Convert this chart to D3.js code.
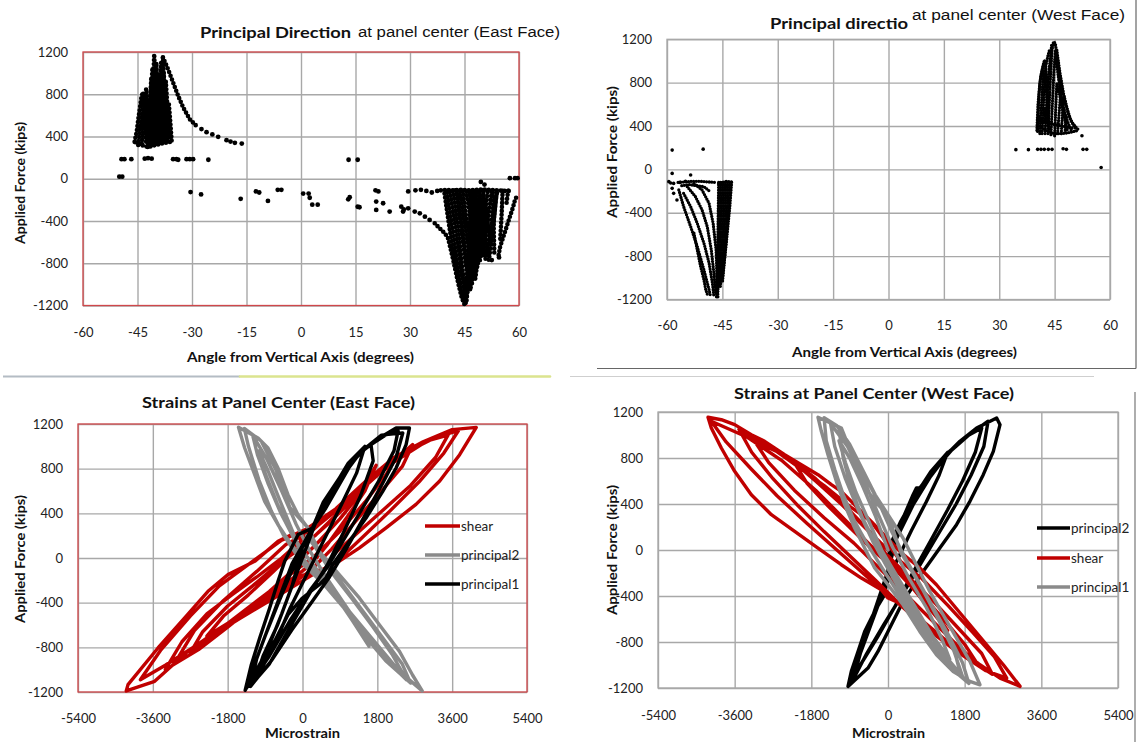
<!DOCTYPE html>
<html><head><meta charset="utf-8">
<script src="https://cdn.jsdelivr.net/npm/d3@7"></script>
<style>body{margin:0;background:#fff}svg{display:block}</style>
</head><body><svg id="c" width="1140" height="742"></svg>
<script>
// ---------- tick values ----------
const angleTicks = [-60,-45,-30,-15,0,15,30,45,60];
const forceTicks = [-1200,-800,-400,0,400,800,1200];
const strainTicks = [-5400,-3600,-1800,0,1800,3600,5400];

// ---------- Principal direction, East face (angle deg, force kips) ----------
const eastDirDots = [
 [-50,20],[-49.2,20],[-49.4,185],[-48.6,185],[-46.7,185],[-43,190],[-42.1,195],[-41.1,190],
 [-35.2,185],[-34.3,185],[-33.8,180],[-31.5,185],[-30.6,185],[-29.7,185],[-25.5,180],
 [-27.4,470],[-26,441],[-24.4,420],[-22.8,397],[-20.5,365],[-19.4,352],[-18.2,340],[-16.3,333],
 [-30.4,-126],[-27.5,-148],[-16.6,-190],[-12.4,-120],[-11.5,-130],[-9.1,-210],[-6.4,-105],[-5.4,-105],
 [0.6,-140],[2.1,-140],[2.4,-180],[3.1,-245],[4.6,-245],[13,-195],[13.4,-175],[15.6,-265],[16.1,-270],
 [13.1,180],[15.6,180],[20.5,-110],[21.3,-120],[20.7,-216],[22.6,-232],[20.7,-295],[24.4,-311],
 [27.6,-264],[28.1,-311],[28.3,-290],[29.5,-280],[31.3,-311],[32.7,-327],[34.1,-359],[35.4,-390],
 [29.5,-120],[31.5,-110],[33,-105],[34.5,-115],[36,-130],[37.5,-115],
 [49.5,-30],[50.5,-55],[57.5,5],[58.9,5],[59.6,5],[54.5,-745],[52.5,-770]
];
const eastDirBands = [
 [[-45.8,350],[-45.2,450],[-44.8,560],[-44.3,680],[-43.9,780],[-43.5,820],[-43.2,700],[-42.9,500],[-42.6,330]],
 [[-44.8,320],[-43.8,600],[-42.6,850],[-42.0,600],[-41.6,320]],
 [[-43.8,330],[-43.2,600],[-42.8,780],[-42.3,500],[-42,320]],
 [[-42.2,300],[-41.6,700],[-41.2,960],[-40.8,650],[-40.5,310]],
 [[-41.8,310],[-41.4,650],[-40.9,1050],[-40.5,700],[-40.1,330]],
 [[-41.2,330],[-40.8,800],[-40.4,1180],[-40.0,800],[-39.6,330]],
 [[-40.6,330],[-40.2,700],[-39.8,1100],[-39.4,700],[-39.0,340]],
 [[-40.2,340],[-39.6,700],[-39.2,1000],[-38.8,700],[-38.4,340]],
 [[-39.6,340],[-39.0,800],[-38.5,1100],[-38.2,800],[-37.7,350]],
 [[-39.2,350],[-38.6,800],[-38.0,1150],[-37.5,800],[-37.0,360]],
 [[-38.6,350],[-38.2,700],[-37.8,1000],[-37.3,650],[-36.8,360]],
 [[-38.2,350],[-37.7,650],[-37.2,920],[-36.7,650],[-36.2,370]],
 [[-37.2,360],[-36.8,550],[-36.4,720],[-36.0,550],[-35.6,360]],
 [[-45.6,345],[-44,320],[-42,300],[-40,320],[-38,335],[-35.8,350]],
 [[-44.2,500],[-42,500],[-40,500],[-38,500],[-36.2,500]],
 [[-43.8,700],[-42,700],[-40,700],[-38,700],[-37,700]],
 [[-38.0,1150],[-36.6,1038],[-35.2,911],[-33.8,784],[-32.4,673],[-30.6,562],[-28.7,498]],
 [[36.8,-422],[38.2,-470],[39.6,-517],[40.5,-565],[41.9,-771],[43.3,-994],[44.2,-1121],[45.1,-1200],[45.8,-1000],[46.3,-700],[46.6,-400],[46.8,-130]],
 [[39.5,-140],[40.8,-450],[42.2,-750],[43.6,-1000],[44.6,-1150],[45.5,-1180],[46.2,-900],[47.0,-500],[47.5,-130]],
 [[40.2,-130],[41.6,-450],[43,-800],[44.2,-1080],[45.0,-1150],[45.9,-850],[46.4,-500],[46.9,-200]],
 [[41,-120],[42.5,-450],[43.8,-800],[44.8,-1050],[45.6,-1120],[46.8,-800],[47.8,-400],[48.2,-120]],
 [[41.8,-115],[43.2,-450],[44.4,-850],[45.6,-1080],[46.9,-850],[47.6,-600],[48.3,-250]],
 [[42.5,-110],[44,-450],[45.3,-800],[46.6,-1057],[47.6,-800],[48.6,-400],[49.2,-120]],
 [[43,-115],[44.6,-500],[46,-900],[47,-1000],[48.2,-750],[49,-450],[49.6,-150]],
 [[43.8,-120],[45.2,-450],[46.8,-800],[47.9,-962],[48.9,-700],[49.8,-350],[50.3,-110]],
 [[44.5,-115],[46,-500],[47.5,-880],[48.4,-800],[49.4,-500],[50.2,-200]],
 [[45.5,-120],[47,-450],[48.5,-835],[49.8,-600],[50.8,-300],[51.4,-120]],
 [[46.2,-115],[47.8,-480],[49.2,-780],[50.3,-550],[51.2,-250]],
 [[47,-120],[48.5,-420],[50.0,-740],[51.0,-500],[52.0,-250],[52.5,-120]],
 [[48,-120],[49.6,-500],[50.8,-760],[52,-550],[53,-250]],
 [[49,-130],[50.5,-450],[51.7,-771],[52.8,-500],[53.6,-200],[54.0,-120]],
 [[50,-110],[51.3,-400],[52.2,-600],[53.2,-350],[53.8,-150]],
 [[52.8,-130],[53.0,-400],[53.2,-700]],
 [[55.5,-115],[55.2,-350],[54.8,-600]],
 [[57,-115],[56.5,-250]],
 [[59.2,-180],[58.9,-200],[58.4,-264],[57.5,-359],[56.6,-454],[55.7,-549],[54.8,-645],[54.3,-740]],
 [[38.5,-110],[40,-105],[42,-110],[44,-105],[46,-110],[48,-105],[50,-100],[52,-105],[54,-110],[56,-115],[57.5,-115]]
];

// ---------- Principal direction, West face ----------
const westDirDots = [
 [-58.6,178],[-50.2,187],[-58.6,-37],[-59.5,-113],[-59,-125],[-58.2,-129],[-58.6,-175],[-58.2,-221],
 [-57.3,-282],[-53.6,-52],[-56.5,-120],[-55,-110],
 [34.5,182],[37.9,182],[40.4,185],[41.3,185],[42.2,185],[43.3,185],[44.3,185],[47.3,190],[48.2,185],
 [52.7,185],[53.7,185],[52.4,311],[57.6,18]
];
const westDirBands = [
 [[-52.7,-588],[-51.8,-742],[-50.9,-895],[-50,-1018],[-49.5,-1110],[-49.1,-1150]],
 [[-56.8,-190],[-55.5,-343],[-53.6,-527],[-51.8,-711],[-50,-926],[-48.6,-1110],[-48.2,-1171]],
 [[-55.5,-221],[-53.6,-343],[-51.8,-497],[-50,-680],[-48.6,-864],[-47.7,-1048],[-47.3,-1171]],
 [[-54.5,-159],[-52.3,-251],[-50.5,-374],[-49.1,-527],[-48,-742],[-47.3,-956],[-46.8,-1140]],
 [[-52.7,-129],[-50.5,-190],[-48.6,-313],[-47.5,-497],[-46.7,-742],[-46.4,-1018],[-46.2,-1190]],
 [[-57,-120],[-55,-115],[-53,-110],[-51,-110],[-49,-115],[-47,-120]],
 [[-56,-150],[-54,-140],[-52,-150],[-50,-160],[-48.5,-200]],
 [[-46,-120],[-46.2,-600],[-46.5,-1000]],
 [[-45.5,-120],[-45.7,-500],[-46.2,-900],[-46.6,-1180]],
 [[-45,-120],[-45.3,-500],[-45.8,-900],[-46.3,-1150]],
 [[-44.5,-120],[-44.8,-500],[-45.5,-900],[-46.0,-1100]],
 [[-44,-120],[-44.3,-450],[-45,-850],[-45.6,-1100]],
 [[-43.5,-120],[-43.8,-400],[-44.5,-800],[-45.3,-1050]],
 [[-43,-120],[-43.4,-380],[-44.2,-750],[-45,-1050]],
 [[-42.5,-120],[-43.0,-350],[-44.0,-700],[-45.0,-1000]],
 [[-46,-130],[-44,-110],[-42.3,-115]],
 [[40.2,360],[40.5,600],[41,800],[41.5,900],[42.4,1009],[43.0,800],[43.3,500],[43.5,330]],
 [[40.4,350],[40.8,700],[41.2,850],[41.8,950],[42.2,1000]],
 [[41,330],[41.6,700],[42.0,917],[42.8,700],[43.2,400]],
 [[41.6,330],[42.2,750],[42.6,950],[43.2,1050],[43.6,1100]],
 [[42.4,330],[43,700],[43.6,950],[44.2,1150]],
 [[43.2,330],[43.8,800],[44.3,1100],[44.7,1178],[45.2,1163],[46,950],[47,750],[48,600],[49,480],[50,420],[51,380],[51.6,363]],
 [[44,320],[44.8,900],[45.2,1100],[46,850],[47.2,600],[48.4,450],[49.6,350]],
 [[45.6,1100],[46.4,900],[47.4,700],[48.4,560],[49.4,450],[50.6,380]],
 [[45.0,310],[45.6,800],[46.3,700],[47.5,500],[48.5,350]],
 [[45.8,330],[46.4,600],[46.8,800]],
 [[46.8,330],[47.2,550],[47.6,680]],
 [[47.8,340],[48.2,500]],
 [[40.8,450],[44,420],[47,400],[50,380]],
 [[41,400],[43,350],[45,330],[47,330],[49,340],[51.5,360]],
 [[42.2,560],[42.5,450],[41.5,450],[40.6,500]]
];

// ---------- Strains, East face (microstrain, kips) ----------
const eastLegend = ["shear","principal2","principal1"];
const eastShear = [
 [0,0],[400,150],[900,350],[1350,560],[1770,830],[1500,600],[1100,380],[600,120],[200,-60],[-300,-200],[-900,-360],[-1600,-540],[-2300,-700],[-1900,-520],[-1300,-330],[-700,-120],[-200,60],
 [300,200],[900,420],[1500,640],[2100,840],[2650,1015],[2400,820],[1900,600],[1300,340],[700,80],[200,-110],[-500,-300],[-1300,-480],[-2200,-690],[-3000,-896],[-2600,-650],[-1900,-380],[-1100,-120],[-400,120],
 [200,240],[900,450],[1700,720],[2500,950],[3200,1080],[3750,1140],[3400,940],[2800,680],[2100,420],[1400,170],[800,-40],[200,-160],[-600,-340],[-1500,-540],[-2500,-770],[-3300,-960],[-3900,-1090],[-3400,-820],[-2700,-520],[-2000,-250],[-1200,-30],[-500,160],
 [100,260],[800,440],[1500,680],[2200,900],[2900,1040],[3600,1150],[4180,1170],[3780,925],[3300,690],[2730,480],[2010,270],[1370,90],[880,-30],[560,-90],[-188,-179],[-910,-388],[-1792,-597],[-2754,-836],[-3556,-1104],[-4240,-1190],[-4197,-1134],[-3476,-806],[-2834,-537],[-2273,-298],[-1792,-149],[-1150,-30],[-589,149],[-268,209],[0,230],
 [-200,-100],[-800,-300],[-1500,-500],[-2200,-700],[-2700,-850],[-2400,-660],[-1800,-430],[-1200,-250],[-600,-60],[0,100],[600,300],[1200,520],[1800,760],[2300,930],[2000,740],[1500,500],[900,240],[300,20],
 [-300,-150],[-1000,-380],[-1800,-620],[-2500,-820],[-3300,-1000],[-2900,-750],[-2300,-500],[-1700,-330],[-1100,-170],[-500,0],[100,200],[700,400],[1400,620],[2200,860],[3000,1050],[3500,1100],[3200,900],[2600,650],[2000,450],[1400,250],[800,50]
];
const eastPrincipal2 = [
 [0,0],[-250,250],[-550,520],[-850,800],[-1050,960],[-900,760],[-600,480],[-300,250],[0,60],[400,-130],[800,-340],[1200,-560],[1600,-790],[1350,-600],[950,-380],[550,-160],[150,80],
 [-150,300],[-500,600],[-850,880],[-1200,1100],[-1080,920],[-820,660],[-520,400],[-200,170],[250,-60],[700,-280],[1200,-520],[1700,-760],[2200,-980],[2500,-1090],[2150,-860],[1700,-620],[1200,-370],[700,-130],[300,100],
 [132,269],[-108,388],[-349,567],[-589,806],[-830,985],[-1070,1075],[-1540,1170],[-1391,985],[-1150,746],[-910,507],[-589,298],[-268,119],[200,-90],[724,-269],[1126,-478],[1528,-657],[1930,-836],[2332,-1015],[2880,-1190],[2650,-1050],[2332,-836],[1849,-597],[1367,-358],[884,-149],[402,60],[132,269],
 [-300,450],[-650,800],[-1000,1050],[-1400,1160],[-1300,1000],[-1050,700],[-750,420],[-450,200],[0,-50],[500,-230],[1000,-450],[1500,-700],[2000,-920],[2600,-1120],[2400,-950],[2000,-750],[1500,-500],[1000,-250],[500,0],[100,200]
];
const eastPrincipal1 = [
 [0,0],[300,300],[700,600],[1100,850],[1500,1000],[1300,760],[900,450],[500,150],[100,-150],[-300,-450],[-700,-800],[-1000,-1000],[-800,-780],[-500,-500],[-200,-200],[0,0],
 [300,320],[800,650],[1300,920],[1648,1015],[1700,870],[1400,560],[1000,240],[600,-60],[200,-300],[-300,-620],[-800,-950],[-1150,-1100],[-950,-880],[-600,-600],[-250,-250],
 [0,100],[400,380],[900,700],[1400,950],[1900,1100],[2412,1120],[2250,900],[1900,650],[1500,380],[1050,80],[650,-170],[250,-380],[-250,-640],[-750,-920],[-1250,-1150],[-1100,-900],[-850,-650],[-550,-350],[-250,-50],
 [241,269],[563,448],[884,657],[1206,866],[1528,985],[1849,1075],[2251,1164],[2573,1164],[2492,1015],[2251,806],[1930,597],[1528,358],[1126,149],[724,-60],[563,-179],[402,-239],[0,-358],[-349,-507],[-670,-746],[-990,-925],[-1380,-1185],[-1231,-955],[-1030,-716],[-790,-448],[-589,-209],[-429,-30],[-268,90],[-108,209],[241,269],
 [500,500],[1000,780],[1500,980],[2000,1100],[2300,1140],[2200,960],[1850,700],[1450,450],[1050,200],[600,-80],[200,-280],[-300,-560],[-800,-880],[-1300,-1150],[-1150,-950],[-900,-700],[-600,-420],[-300,-150],[0,60]
];

// ---------- Strains, West face ----------
const westLegend = ["principal2","shear","principal1"];
const westPrincipal2 = [
 [0,0],[300,250],[650,480],[1000,680],[1400,850],[1200,650],[900,420],[550,170],[200,-100],[-100,-350],[-350,-600],[-550,-800],[-400,-620],[-200,-400],[0,-180],
 [200,100],[600,400],[1000,640],[1450,860],[1900,1000],[2200,1060],[2050,850],[1750,600],[1400,350],[1000,80],[550,-220],[150,-500],[-250,-760],[-650,-1000],[-800,-1100],[-650,-900],[-400,-640],[-150,-380],
 [0,-200],[118,46],[353,278],[589,481],[667,539],[746,539],[981,655],[1295,800],[1688,945],[2080,1061],[2551,1148],[2630,1090],[2473,858],[2237,655],[1923,423],[1609,220],[1217,17],[824,-186],[353,-447],[0,-708],[-235,-882],[-470,-1027],[-939,-1186],[-861,-1055],[-704,-882],[-548,-708],[-313,-534],[-78,-389],[0,-200],
 [0,-50],[300,200],[700,470],[1100,700],[1500,870],[1900,1000],[2350,1120],[2250,900],[1950,650],[1600,400],[1200,150],[800,-100],[350,-380],[-100,-650],[-500,-900],[-850,-1150],[-700,-950],[-450,-700],[-200,-450],[0,-200]
];
const westShear = [
 [0,0],[-500,180],[-1100,400],[-1700,600],[-2200,760],[-1900,580],[-1400,380],[-800,160],[-300,-20],[200,-180],[600,-340],[1000,-520],[1400,-700],[1100,-540],[700,-380],[300,-200],[0,-60],
 [-400,150],[-1000,380],[-1700,620],[-2400,820],[-3130,945],[-2800,760],[-2200,520],[-1500,280],[-800,60],[-200,-160],[400,-380],[1000,-600],[1600,-820],[2100,-990],[1800,-820],[1300,-600],[800,-390],[300,-200],
 [-300,0],[-1000,260],[-1700,520],[-2500,780],[-3300,980],[-4148,1119],[-3800,940],[-3200,700],[-2600,470],[-1900,230],[-1200,0],[-500,-230],[200,-450],[900,-680],[1600,-880],[2300,-1050],[2787,-1114],[2500,-930],[2000,-720],[1400,-480],[800,-250],[300,-100],
 [-400,250],[-1096,510],[-1330,568],[-1643,655],[-2035,742],[-2426,829],[-2896,945],[-3209,1003],[-3600,1090],[-3913,1133],[-4226,1154],[-4148,1061],[-3913,887],[-3600,684],[-3209,481],[-2739,307],[-2191,162],[-1643,17],[-1096,-128],[-626,-244],[-157,-345],[0,-418],[353,-476],[824,-621],[1295,-766],[1766,-882],[2159,-998],[2630,-1114],[3101,-1186],[2708,-998],[2316,-824],[1923,-650],[1531,-476],[1138,-302],[746,-157],[300,-20],[-400,250],
 [-900,380],[-1500,560],[-2100,720],[-2700,880],[-3500,1050],[-3200,850],[-2700,620],[-2100,380],[-1500,160],[-900,-50],[-300,-260],[300,-480],[1000,-700],[1700,-900],[2450,-1080],[2200,-900],[1700,-700],[1100,-460],[500,-240],[0,-50]
];
const westPrincipal1 = [
 [0,0],[-300,300],[-600,560],[-900,800],[-1150,950],[-1000,760],[-750,500],[-450,250],[-150,0],[250,-250],[650,-500],[1050,-750],[1450,-950],[1250,-760],[900,-500],[500,-250],[100,30],
 [-250,330],[-600,640],[-950,900],[-1350,1100],[-1250,900],[-1000,620],[-700,350],[-350,70],[100,-230],[550,-520],[1000,-800],[1450,-1000],[1750,-1100],[1550,-880],[1150,-580],[750,-300],[300,-20],
 [0,307],[-235,394],[-470,510],[-704,684],[-939,916],[-1096,1061],[-1643,1154],[-1565,1032],[-1409,829],[-1213,597],[-1017,394],[-783,191],[-548,17],[-313,-157],[0,-302],[353,-476],[746,-708],[1138,-911],[1531,-1056],[1923,-1143],[2159,-1172],[1923,-969],[1609,-766],[1295,-563],[981,-360],[667,-128],[353,104],[0,307],
 [-300,480],[-600,700],[-900,920],[-1200,1080],[-1500,1150],[-1450,950],[-1250,700],[-1050,480],[-800,260],[-500,60],[-150,-150],[250,-380],[650,-620],[1050,-850],[1450,-1020],[1900,-1160],[1750,-980],[1450,-760],[1150,-560],[800,-330],[450,-100],[100,150],
 [-200,400],[-550,650],[-850,870],[-1150,1040],[-1050,800],[-850,520],[-600,280],[-300,60],[100,-200],[500,-450],[900,-700],[1300,-900],[1700,-1080],[1550,-860],[1250,-640],[900,-400],[550,-180],[200,80]
];

// ---------- drawing ----------
const svg = d3.select("#c");
const RED = "#c00000", GRAYC = "#8a8a8a", BLACK = "#000000", GRID = "#a8a8a8", BORDER_RED = "#d0474a";
const CAL = "Lato, 'Liberation Sans', Arial, sans-serif";
const ARIAL = "'Liberation Sans', Arial, sans-serif";

function txt(s, x, y, o) {
  const t = svg.append("text").text(s).attr("x", x).attr("y", y)
    .attr("font-family", o.family || CAL).attr("font-size", o.size || 13)
    .attr("font-weight", o.weight || "normal").attr("fill", o.fill || "#111")
    .attr("text-anchor", o.anchor || "middle").attr("dominant-baseline", "central");
  if (o.len) t.attr("textLength", o.len).attr("lengthAdjust", "spacingAndGlyphs");
  if (o.rot) t.attr("transform", `rotate(${o.rot},${x},${y})`);
  return t;
}

function panel(o) {
  const x = d3.scaleLinear().domain([o.xt[0], o.xt[o.xt.length - 1]]).range([o.l, o.r]);
  const y = d3.scaleLinear().domain([-1200, 1200]).range([o.b, o.t]);
  const fs = 13;
  const fmt = d => String(d);
  const gx = svg.append("g").attr("transform", `translate(0,${o.b})`)
    .call(d3.axisBottom(x).tickValues(o.xt).tickSize(-(o.b - o.t)).tickPadding(o.xpad).tickFormat(fmt));
  const gy = svg.append("g").attr("transform", `translate(${o.l},0)`)
    .call(d3.axisLeft(y).tickValues(forceTicks).tickSize(-(o.r - o.l)).tickPadding(15).tickFormat(fmt));
  [gx, gy].forEach(g => {
    g.select(".domain").remove();
    g.selectAll("line").attr("stroke", GRID).attr("stroke-width", 1.4);
    g.selectAll("text").attr("font-family", CAL).attr("font-size", fs).attr("fill", "#222");
  });
  gx.selectAll("text").attr("dy", "0.71em");
  svg.append("rect").attr("x", o.l).attr("y", o.t).attr("width", o.r - o.l).attr("height", o.b - o.t)
    .attr("fill", "none").attr("stroke", o.border).attr("stroke-width", 1.3);
  const plot = svg.append("g");
  return { x, y, plot };
}

function drawDirection(p, dots, bands, r, w, gap) {
  const line = d3.line().x(d => p.x(d[0])).y(d => p.y(d[1]));
  p.plot.selectAll("path.band").data(bands).join("path").attr("class", "band")
    .attr("d", line).attr("fill", "none").attr("stroke", "#000").attr("stroke-width", w)
    .attr("stroke-linecap", "round").attr("stroke-linejoin", "round").attr("stroke-dasharray", `0 ${gap}`);
  p.plot.selectAll("circle").data(dots).join("circle")
    .attr("cx", d => p.x(d[0])).attr("cy", d => p.y(d[1])).attr("r", r).attr("fill", "#000");
}

function drawLoops(p, series) {
  const line = d3.line().x(d => p.x(d[0])).y(d => p.y(d[1]));
  series.forEach(s => {
    p.plot.append("path").datum(s.data).attr("d", line).attr("fill", "none")
      .attr("stroke", s.color).attr("stroke-width", 3.4).attr("stroke-linejoin", "round").attr("stroke-linecap", "round");
  });
}

function legend(names, colors, x1, x2, ys) {
  names.forEach((n, i) => {
    svg.append("line").attr("x1", x1).attr("x2", x2).attr("y1", ys[i]).attr("y2", ys[i])
      .attr("stroke", colors[i]).attr("stroke-width", 3.5);
    txt(n, x2 + 1, ys[i], { anchor: "start", size: 13.5, fill: "#222" });
  });
}

// frame decorations
svg.append("line").attr("x1", 3).attr("x2", 240).attr("y1", 376.5).attr("y2", 376.5).attr("stroke", "#b4bcc4").attr("stroke-width", 2.2);
svg.append("line").attr("x1", 240).attr("x2", 550).attr("y1", 376.5).attr("y2", 376.5).attr("stroke", "#dbe48f").attr("stroke-width", 2.6).attr("stroke-linecap", "round");
svg.append("line").attr("x1", 597).attr("x2", 1136).attr("y1", 368.5).attr("y2", 368.5).attr("stroke", "#666").attr("stroke-width", 1.2);
svg.append("line").attr("x1", 1136).attr("x2", 1136).attr("y1", 0).attr("y2", 368.5).attr("stroke", "#666").attr("stroke-width", 1.2);
svg.append("line").attr("x1", 570).attr("x2", 1094).attr("y1", 376.5).attr("y2", 376.5).attr("stroke", "#cfcfcf").attr("stroke-width", 1);
svg.append("line").attr("x1", 1135).attr("x2", 1135).attr("y1", 392).attr("y2", 742).attr("stroke", "#777").attr("stroke-width", 1.2);

// Panel 1
const p1 = panel({ l: 83, r: 519, t: 52, b: 305.5, xt: angleTicks, xpad: 22, border: BORDER_RED });
drawDirection(p1, eastDirDots, eastDirBands, 2.4, 4.6, 4);
txt("Principal Direction", 275.5, 32, { size: 15, weight: "bold", len: 151 });
txt("at panel center (East Face)", 459, 32, { size: 14, family: ARIAL, len: 202 });
txt("Angle from Vertical Axis (degrees)", 300.5, 357, { size: 13, weight: "bold", len: 227 });
txt("Applied Force (kips)", 20, 183, { size: 13, weight: "bold", len: 122, rot: -90 });

// Panel 2
const p2 = panel({ l: 667, r: 1110, t: 39.3, b: 299.5, xt: angleTicks, xpad: 21, border: GRID });
drawDirection(p2, westDirDots, westDirBands, 1.8, 3.3, 2.6);
txt("Principal directio", 839, 23, { size: 15, weight: "bold", len: 138 });
txt("at panel center (West Face)", 1018.5, 15, { size: 14, family: ARIAL, len: 213 });
txt("Angle from Vertical Axis (degrees)", 904.5, 352, { size: 13, weight: "bold", len: 225 });
txt("Applied Force (kips)", 612, 152, { size: 13, weight: "bold", len: 132, rot: -90 });

// Panel 3
const p3 = panel({ l: 78, r: 527, t: 424, b: 692, xt: strainTicks, xpad: 21.5, border: BORDER_RED });
drawLoops(p3, [
  { data: eastShear, color: RED },
  { data: eastPrincipal2, color: GRAYC },
  { data: eastPrincipal1, color: BLACK }
]);
legend(eastLegend, [RED, GRAYC, BLACK], 425, 460, [526, 555, 584]);
txt("Strains at Panel Center (East Face)", 278.5, 402, { size: 15, weight: "bold", len: 273 });
txt("Microstrain", 302.5, 733, { size: 13, weight: "bold", len: 75 });
txt("Applied Force (kips)", 20, 559, { size: 13, weight: "bold", len: 128, rot: -90 });

// Panel 4
const p4 = panel({ l: 658, r: 1118, t: 412, b: 688, xt: strainTicks, xpad: 22.4, border: GRID });
drawLoops(p4, [
  { data: westPrincipal2, color: BLACK },
  { data: westShear, color: RED },
  { data: westPrincipal1, color: GRAYC }
]);
legend(westLegend, [BLACK, RED, GRAYC], 1037, 1070, [528, 558, 587]);
txt("Strains at Panel Center (West Face)", 874, 393, { size: 15, weight: "bold", len: 280 });
txt("Microstrain", 888.5, 733, { size: 13, weight: "bold", len: 73 });
txt("Applied Force (kips)", 612, 550, { size: 13, weight: "bold", len: 130, rot: -90 });
</script>
</body></html>
